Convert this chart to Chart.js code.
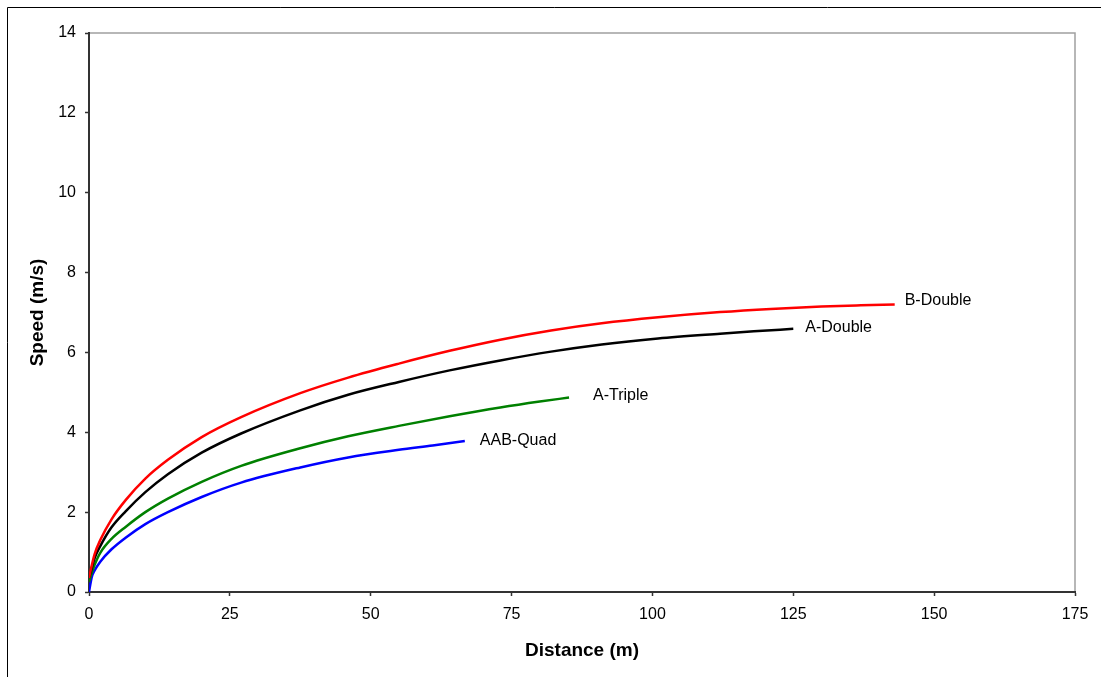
<!DOCTYPE html>
<html>
<head>
<meta charset="utf-8">
<title>Speed vs Distance</title>
<script src="https://cdn.jsdelivr.net/npm/chart.js@4/dist/chart.umd.min.js"></script>
<style>
  html, body { margin: 0; padding: 0; background: #fff; }
  canvas { display: block; }
</style>
</head>
<body>
<canvas id="speedChart" width="1101" height="677"></canvas>
<script>
// values
const bDoubleDist  = [0, 0.3, 1, 2, 4, 6.5, 10, 14, 20, 27, 37.5, 46, 55, 64, 73, 82, 91, 101, 112, 121, 130, 137, 143];
const bDoubleSpeed = [0.35, 0.55, 0.95, 1.3, 1.82, 2.3, 2.84, 3.31, 3.88, 4.38, 4.98, 5.37, 5.72, 6.04, 6.32, 6.55, 6.73, 6.88, 7.01, 7.09, 7.15, 7.18, 7.2];

const aDoubleDist  = [0, 0.3, 1, 2, 4, 6.5, 10, 14, 20, 27, 37.5, 46, 55, 64, 73, 82, 91, 101, 112, 118, 125];
const aDoubleSpeed = [0.35, 0.5, 0.85, 1.15, 1.62, 2.02, 2.5, 2.95, 3.49, 3.97, 4.55, 4.94, 5.26, 5.55, 5.8, 6.02, 6.2, 6.35, 6.47, 6.53, 6.59];

const aTripleDist  = [0, 0.3, 1, 2, 4, 6.5, 10, 14, 20, 27, 37.5, 46, 55, 64, 73, 80, 85.2];
const aTripleSpeed = [0.25, 0.4, 0.68, 0.98, 1.33, 1.63, 2.0, 2.34, 2.76, 3.16, 3.6, 3.9, 4.16, 4.4, 4.62, 4.77, 4.87];

const aabQuadDist  = [0, 0.5, 1, 2, 4, 6.5, 10, 14, 20, 27, 37.5, 46, 55, 61, 66.7];
const aabQuadSpeed = [0, 0.38, 0.54, 0.76, 1.07, 1.36, 1.7, 2.0, 2.38, 2.74, 3.12, 3.37, 3.56, 3.67, 3.78];

const seriesNames = ['B-Double', 'A-Double', 'A-Triple', 'AAB-Quad'];
const xTicksMax = 175;
const yTicksMax = 14;

const toPoints = (xs, ys) => xs.map((x, i) => ({ x: x, y: ys[i] }));

// text next to the end of each curve
const endLabels = {
    id: 'endLabels',
    afterDatasetsDraw(chart, args, opts) {
        const ctx = chart.ctx;
        ctx.save();
        ctx.font = '16px "Liberation Sans", Arial, sans-serif';
        ctx.fillStyle = '#000';
        ctx.textBaseline = 'middle';
        ctx.textAlign = 'left';
        chart.data.datasets.forEach((ds, i) => {
            const pts = chart.getDatasetMeta(i).data;
            const last = pts[pts.length - 1];
            const off = opts.offsets[i];
            ctx.fillText(ds.label, last.x + off[0], last.y + off[1]);
        });
        ctx.restore();
    }
};

// outer frame + gray top/right edges of plot area
const frame = {
    id: 'frame',
    beforeDraw(chart) {
        const ctx = chart.ctx;
        const a = chart.chartArea;
        ctx.save();
        ctx.strokeStyle = '#000';
        ctx.lineWidth = 1;
        ctx.beginPath();
        ctx.moveTo(7.5, chart.height);
        ctx.lineTo(7.5, 7.5);
        ctx.lineTo(chart.width, 7.5);
        ctx.stroke();
        ctx.strokeStyle = '#a0a0a0';
        ctx.lineWidth = 1.5;
        ctx.beginPath();
        ctx.moveTo(a.left, a.top);
        ctx.lineTo(a.right, a.top);
        ctx.lineTo(a.right, a.bottom);
        ctx.stroke();
        ctx.restore();
    }
};

const colors = ['#ff0000', '#000000', '#008000', '#0000ff'];
const allData = [
    toPoints(bDoubleDist, bDoubleSpeed),
    toPoints(aDoubleDist, aDoubleSpeed),
    toPoints(aTripleDist, aTripleSpeed),
    toPoints(aabQuadDist, aabQuadSpeed)
];

const tickFont = { family: '"Liberation Sans", Arial, sans-serif', size: 16 };
const titleFont = { family: '"Liberation Sans", Arial, sans-serif', size: 19, weight: 'bold' };

const config = {
    type: 'line',
    data: {
        datasets: seriesNames.map((name, i) => ({
            label: name,
            data: allData[i],
            borderColor: colors[i],
            backgroundColor: colors[i],
            borderWidth: 2.5,
            pointRadius: 0,
            fill: false,
            cubicInterpolationMode: 'monotone'
        }))
    },
    options: {
        responsive: false,
        animation: false,
        layout: { padding: { top: 33, right: 26, left: 0, bottom: 0 } },
        plugins: {
            legend: { display: false },
            tooltip: { enabled: false },
            endLabels: { offsets: [[10, -4], [12, -1], [24, -2], [15, 0]] }
        },
        scales: {
            x: {
                type: 'linear',
                min: 0,
                max: xTicksMax,
                ticks: { stepSize: 25, color: '#000', font: tickFont, padding: 9, maxRotation: 0 },
                grid: { drawOnChartArea: false, drawTicks: true, tickLength: 4, color: '#333', tickWidth: 1.5 },
                border: { color: '#333', width: 2 },
                title: { display: true, text: 'Distance (m)', color: '#000', font: titleFont, padding: { top: 0, bottom: 15 } },
                afterFit: (scale) => { scale.height = 85; }
            },
            y: {
                min: 0,
                max: yTicksMax,
                ticks: { stepSize: 2, color: '#000', font: tickFont, padding: 9 },
                grid: { drawOnChartArea: false, drawTicks: true, tickLength: 4, color: '#333', tickWidth: 1.5 },
                border: { color: '#333', width: 2 },
                title: { display: true, text: 'Speed (m/s)', color: '#000', font: titleFont, padding: { top: 26, bottom: 0 } },
                afterFit: (scale) => { scale.width = 89; }
            }
        }
    },
    plugins: [frame, endLabels]
};

const ctx = document.getElementById('speedChart').getContext('2d');
const speedChart = new Chart(ctx, config);
</script>
</body>
</html>
